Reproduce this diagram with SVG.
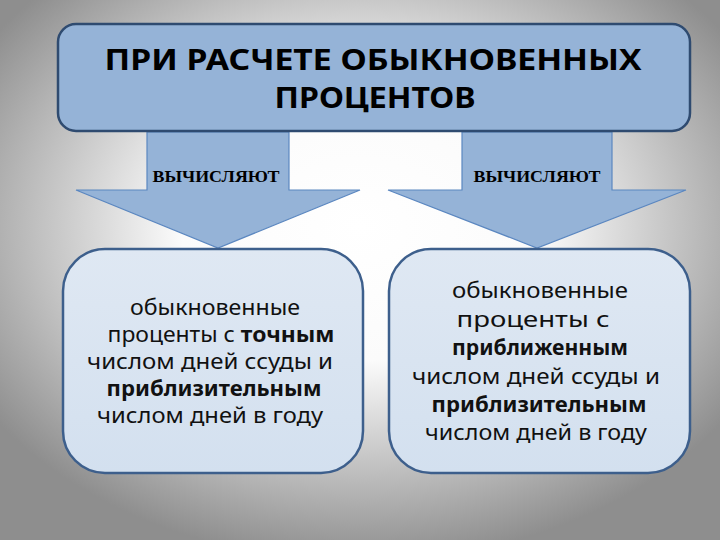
<svg xmlns="http://www.w3.org/2000/svg" width="720" height="540" viewBox="0 0 720 540">
<defs>
<radialGradient id="bg" cx="50%" cy="42%" r="62%">
<stop offset="0" stop-color="#ffffff"/>
<stop offset="0.4" stop-color="#fbfbfb"/>
<stop offset="1" stop-color="#8e8e8e"/>
</radialGradient>
<linearGradient id="boxfill" x1="0" y1="0" x2="0" y2="1">
<stop offset="0" stop-color="#dfe8f3"/>
<stop offset="1" stop-color="#d3e0ef"/>
</linearGradient>
<style>
.top{fill:#95b3d7;stroke:#2f4b70;stroke-width:2.5}
.arrow{fill:#95b3d7;stroke:#5b87c0;stroke-width:1.2}
.box{fill:url(#boxfill);stroke:#3d5f8c;stroke-width:2.5}
.title{font-family:"Noto Sans","DejaVu Sans",sans-serif;font-weight:bold;font-size:28px;fill:#000;text-anchor:middle}
.lbl{font-family:"Liberation Serif","Times New Roman",serif;font-weight:bold;font-size:16px;fill:#000;text-anchor:middle}
.t{font-family:"Noto Sans","DejaVu Sans",sans-serif;font-size:21px;fill:#111;text-anchor:middle}
.b{font-weight:bold}
</style>
</defs>
<rect width="720" height="540" fill="url(#bg)"/>
<g id="connectors">
<g id="arrow-left">
<polygon class="arrow" points="147,132 289,132 289,190 360,190 218,248 76,190 147,190"/>
<text class="lbl" x="216" y="182" textLength="127" lengthAdjust="spacingAndGlyphs">ВЫЧИСЛЯЮТ</text>
</g>
<g id="arrow-right">
<polygon class="arrow" points="462,132 612,132 612,190 686,190 537,248 388,190 462,190"/>
<text class="lbl" x="537" y="182" textLength="127" lengthAdjust="spacingAndGlyphs">ВЫЧИСЛЯЮТ</text>
</g>
</g>
<g id="node-top">
<rect class="top" x="58" y="24" width="632" height="107" rx="18"/>
<text class="title" x="373" y="70" textLength="537" lengthAdjust="spacingAndGlyphs">ПРИ РАСЧЕТЕ ОБЫКНОВЕННЫХ</text>
<text class="title" x="375" y="108" textLength="201" lengthAdjust="spacingAndGlyphs">ПРОЦЕНТОВ</text>
</g>
<g id="node-left">
<rect class="box" x="63" y="249" width="300" height="224" rx="42"/>
<text class="t" x="215" y="315" textLength="170" lengthAdjust="spacingAndGlyphs">обыкновенные</text>
<text class="t" x="221" y="342" textLength="227" lengthAdjust="spacingAndGlyphs">проценты  с <tspan class="b">точным</tspan></text>
<text class="t" x="210" y="369" textLength="246" lengthAdjust="spacingAndGlyphs">числом дней ссуды и</text>
<text class="t b" x="214" y="396" textLength="215" lengthAdjust="spacingAndGlyphs">приблизительным</text>
<text class="t" x="210" y="423" textLength="226" lengthAdjust="spacingAndGlyphs">числом дней в году</text>
</g>
<g id="node-right">
<rect class="box" x="389" y="249" width="301" height="224" rx="42"/>
<text class="t" x="540" y="298" textLength="176" lengthAdjust="spacingAndGlyphs">обыкновенные</text>
<text class="t" x="533" y="327" textLength="153" lengthAdjust="spacingAndGlyphs">проценты с</text>
<text class="t b" x="540" y="355" textLength="176" lengthAdjust="spacingAndGlyphs">приближенным</text>
<text class="t" x="536" y="384" textLength="248" lengthAdjust="spacingAndGlyphs">числом дней ссуды и</text>
<text class="t b" x="539" y="412" textLength="215" lengthAdjust="spacingAndGlyphs">приблизительным</text>
<text class="t" x="536" y="440" textLength="222" lengthAdjust="spacingAndGlyphs">числом дней в году</text>
</g>
</svg>
